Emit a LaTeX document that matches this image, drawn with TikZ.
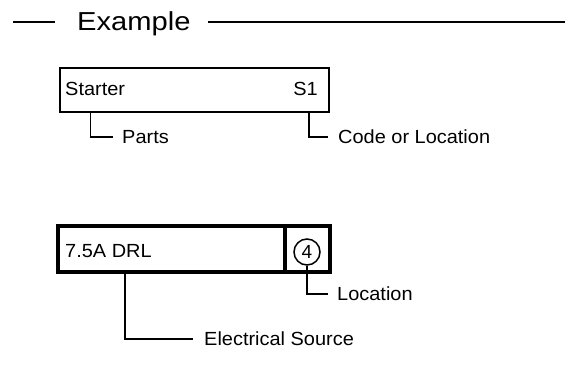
\documentclass[tikz,border=0pt]{standalone}
\usepackage{fontspec}
\setmainfont{Liberation Sans}
\begin{document}
\begin{tikzpicture}[x=1pt,y=-1pt,
  thinline/.style={line width=1.5pt},
  thickline/.style={line width=3.6pt},
  lbl/.style={inner sep=0pt,font=\fontsize{19}{22}\selectfont,text height=13.6pt,text depth=0pt,xscale=1.05,transform shape},
  boxtext/.style={inner sep=0pt,font=\fontsize{19}{22}\selectfont,xscale=1.05,transform shape},
  title/.style={inner sep=0pt,font=\fontsize{26}{30}\selectfont,xscale=1.12,transform shape}
]
\useasboundingbox (0,0) rectangle (565,383);
% header
\node[title,anchor=base west] (ttl) at (77,30) {Example};
\coordinate (hl1) at (13,22);
\coordinate (hl2) at (55,22);
\coordinate (hr1) at (208,22);
\coordinate (hr2) at (565,22);
\draw[thinline] (hl1) -- (hl2);
\draw[thinline] (hr1) -- (hr2);
% first box
\node[draw,thinline,minimum width=269pt,minimum height=44pt,inner sep=0pt] (b1) at (194.5,90) {};
\node[boxtext,anchor=base west] (starter) at (65,95) {Starter};
\node[boxtext,anchor=base east] (s1) at (318,95) {S1};
\node[lbl,anchor=west] (parts) at (122,137) {Parts};
\node[lbl,anchor=west] (code) at (338,137) {Code or Location};
\draw[thinline] ([xshift=31pt]b1.south west) |- ([xshift=-9pt]parts.west);
\draw[thinline] ([xshift=-21pt]b1.south east) |- ([xshift=-10pt]code.west);
% second box
\node[draw,thickline,minimum width=272pt,minimum height=46pt,inner sep=0pt] (b2) at (194,249) {};
\coordinate (dtop) at (285,226);
\coordinate (dbot) at (285,272);
\draw[thickline] (dtop) -- (dbot);
\node[boxtext,anchor=base west] (drl) at (65,257) {7.5A DRL};
\node[draw,circle,thinline,minimum size=26pt,inner sep=0pt,font=\fontsize{19}{22}\selectfont] (c4) at (307,252) {4};
\node[lbl,anchor=west] (loc) at (337,294) {Location};
\node[lbl,anchor=west] (src) at (204,339) {Electrical Source};
\draw[thinline] (c4.south) |- ([xshift=-9pt]loc.west);
\draw[thinline] ([xshift=69pt]b2.south west) |- ([xshift=-11pt]src.west);
\end{tikzpicture}
\end{document}
